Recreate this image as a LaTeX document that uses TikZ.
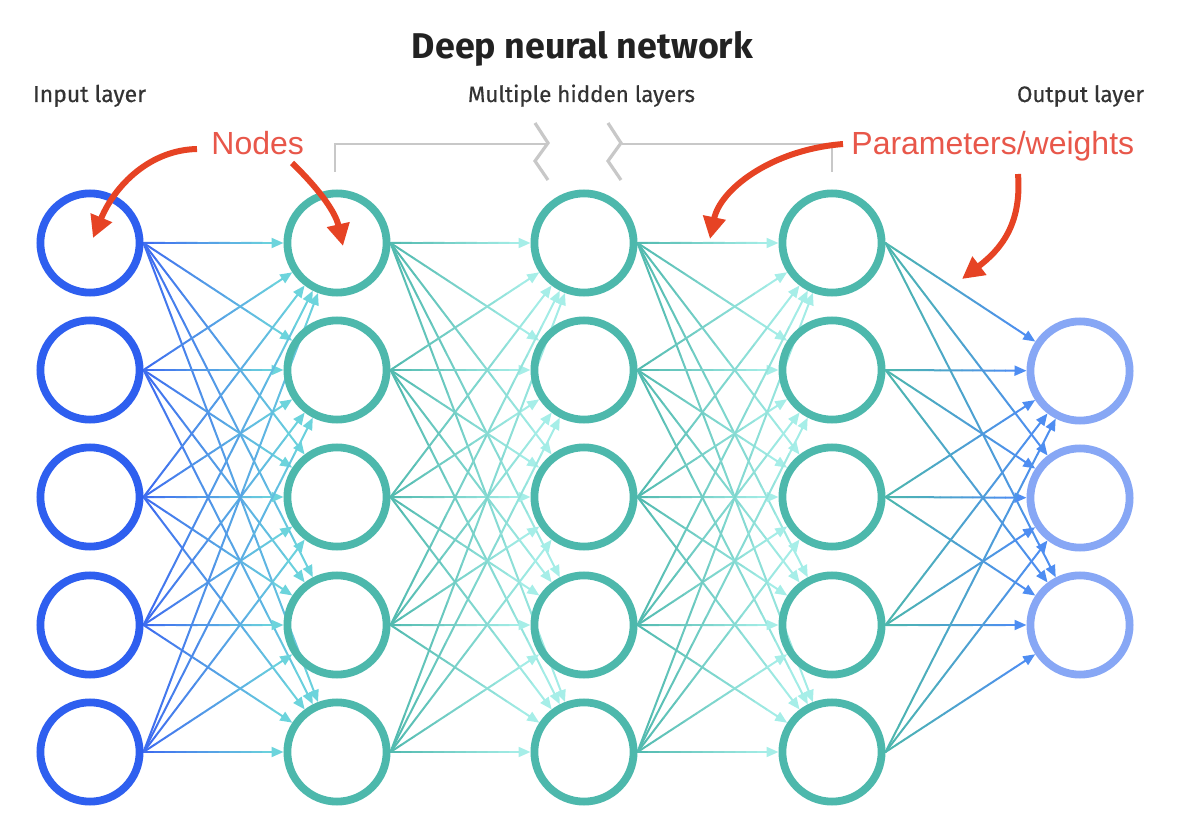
\documentclass[tikz,border=0pt]{standalone}
\usepackage{fontspec}
\setmainfont{Liberation Sans}
\newfontfamily\labfont[FakeBold=0.5]{Fira Sans}
\newfontfamily\titlefont{Fira Sans}
\usetikzlibrary{calc,arrows.meta}
\pgfdeclarelayer{bg}
\pgfsetlayers{bg,main}
\definecolor{inblue}{HTML}{2E5FEF}
\definecolor{hteal}{HTML}{4DB8AC}
\definecolor{outblue}{HTML}{87A7F5}
\definecolor{eAs}{HTML}{3D6AF0}
\definecolor{eAe}{HTML}{6CD4DC}
\definecolor{eBs}{HTML}{50B9AE}
\definecolor{eBe}{HTML}{A6EEE8}
\definecolor{eCs}{HTML}{4DB8AC}
\definecolor{eCe}{HTML}{4E8DF2}
\definecolor{redtxt}{HTML}{E8574A}
\definecolor{redarr}{HTML}{E64324}
\definecolor{labgray}{HTML}{333333}
\definecolor{titlegray}{HTML}{222222}
\definecolor{brgray}{HTML}{C8C8C8}
% gradient edge: from node #1 to node #2, start colour #3, end colour #4
\newcommand\gedge[4]{%
  \path (#1.east) coordinate (S)
        ($(#2)!26.75pt!(#1.east)$) coordinate (E);
  \path ($(E)!5pt!(S)$) coordinate (E2);
  \foreach \k in {0,...,11}{%
    \pgfmathtruncatemacro\p{round(100*(\k+0.5)/12)}%
    \pgfmathsetmacro\ka{\k/12}%
    \pgfmathsetmacro\kb{(\k+1)/12}%
    \draw[edgeline,draw={#4!\p!#3}] ($(S)!\ka!(E2)$) -- ($(S)!\kb!(E2)$);
  }%
  \draw[edgeline,draw=#4,fill=#4,-{Triangle[length=6pt,width=5pt]}] (E2) -- (E);
}
\begin{document}
\begin{tikzpicture}[x=0.5pt,y=-0.5pt,
  neuron/.style={circle,draw,line width=3.9pt,minimum size=49.6pt,inner sep=0pt,outer sep=1.95pt},
  edgeline/.style={line width=1pt,line cap=round},
  redarrow/.style={draw=redarr,line width=3pt,-{Triangle[length=11pt,width=11pt]}},
  redlabel/.style={text=redtxt,font=\fontsize{16}{19}\selectfont,inner sep=0pt,anchor=base west},
  laylabel/.style={text=labgray,inner sep=0pt,anchor=base},
  bracket/.style={draw=brgray,line width=1pt},
  breakmark/.style={draw=brgray,line width=1.6pt}]
\useasboundingbox (0,0) rectangle (1184,834);

% nodes
\foreach \j/\y in {1/243,2/370,3/497,4/625,5/752}{
  \node[neuron,draw=inblue] (i\j) at (90,\y) {};
  \node[neuron,draw=hteal] (a\j) at (337,\y) {};
  \node[neuron,draw=hteal] (b\j) at (584,\y) {};
  \node[neuron,draw=hteal] (c\j) at (832,\y) {};
}
\foreach \j/\y in {1/371,2/498,3/625}{
  \node[neuron,draw=outblue] (o\j) at (1080,\y) {};
}

% edges
\begin{pgfonlayer}{bg}
\foreach \s in {1,...,5}{
  \foreach \t in {1,...,5}{
    \gedge{i\s}{a\t}{eAs}{eAe}
    \gedge{a\s}{b\t}{eBs}{eBe}
    \gedge{b\s}{c\t}{eBs}{eBe}
  }
  \foreach \t in {1,...,3}{
    \gedge{c\s}{o\t}{eCs}{eCe}
  }
}
\end{pgfonlayer}

% titles
\node[laylabel,text=titlegray] (title) at (582.5,59) {\resizebox{170.5pt}{!}{\titlefont\bfseries Deep neural network}};
\node[laylabel] (inlbl) at (89.5,102) {\resizebox{56.5pt}{!}{\labfont Input layer}};
\node[laylabel] (hidlbl) at (581.5,102) {\resizebox{113.5pt}{!}{\labfont Multiple hidden layers}};
\node[laylabel] (outlbl) at (1080.5,102) {\resizebox{63.5pt}{!}{\labfont Output layer}};

% bracket over hidden layers
\draw[bracket] (335,172) -- (335,144) -- (548,144);
\draw[bracket] (622,144) -- (832,144) -- (832,172);
\draw[breakmark] (535,123) -- (548,143) -- (535,161) -- (548,180);
\draw[breakmark] (608,123) -- (621,143) -- (608,161) -- (621,180);

% red annotations
\node[redlabel] (nodeslbl) at (211,155) {Nodes};
\node[redlabel] (paramlbl) at (851,155) {Parameters/weights};
\coordinate (n1s) at (197,149);
\coordinate (n1t) at (93,238);
\coordinate (n2s) at (292,163);
\coordinate (n2t) at (343,246);
\coordinate (p1s) at (843,144);
\coordinate (p1t) at (710,239);
\coordinate (p2s) at (1018,174);
\coordinate (p2t) at (962,279);
\draw[redarrow] (n1s) .. controls (150,150) and (115,185) .. (n1t);
\draw[redarrow] (n2s) .. controls (315,185) and (335,210) .. (n2t);
\draw[redarrow] (p1s) .. controls (770,150) and (720,190) .. (p1t);
\draw[redarrow] (p2s) .. controls (1022,225) and (1000,250) .. (p2t);
\end{tikzpicture}
\end{document}
